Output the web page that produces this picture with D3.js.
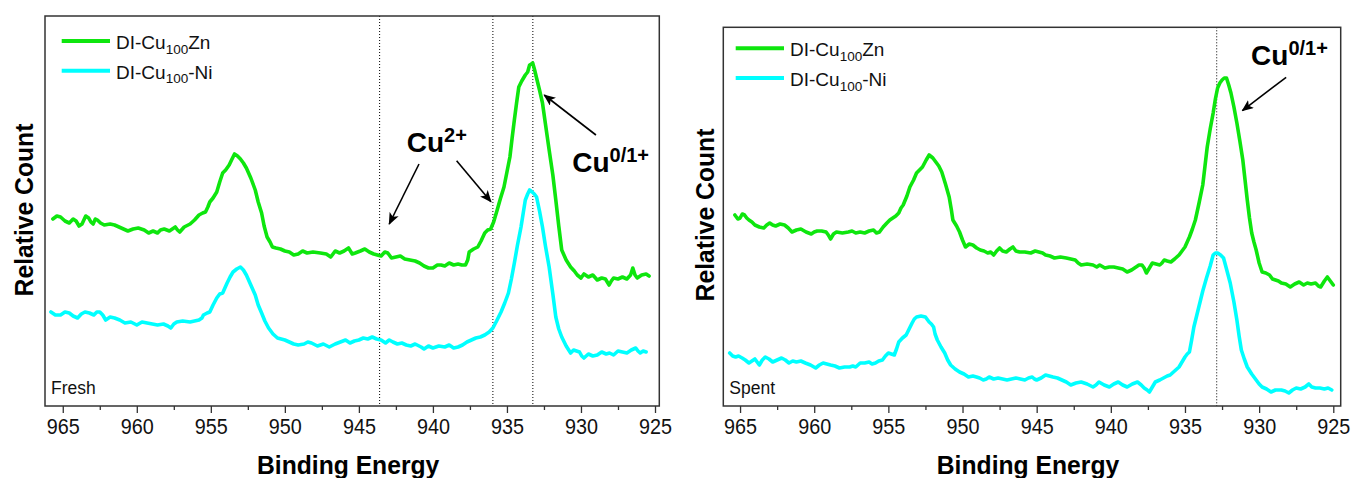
<!DOCTYPE html>
<html><head><meta charset="utf-8">
<script src="https://cdn.jsdelivr.net/npm/d3@7"></script>
<style>
html,body{margin:0;padding:0;background:#fff;}
svg text{font-family:"Liberation Sans",Arial,sans-serif;}
</style></head>
<body><svg id="c" width="1352" height="478"></svg>
<script>
// ---------- data ----------
const majorTicks = [965, 960, 955, 950, 945, 940, 935, 930, 925];
const minorTicks = [962.5, 957.5, 952.5, 947.5, 942.5, 937.5, 932.5, 927.5];
const seriesNames = ["DI-Cu100Zn", "DI-Cu100-Ni"];
const panelLabels = ["Fresh", "Spent"];
const freshRefLines = [943.6, 935.95, 933.25];
const spentRefLines = [932.86];

// Fresh, DI-Cu100Zn  [binding energy, relative count]
const freshZn = [[965.67,187],[965.4,190],[965.15,189],[964.85,185],[964.56,183],[964.3,187],[964.1,185],[963.9,180],[963.7,182],[963.45,190],[963.25,188],[963.1,184],[962.95,182],[962.8,187],[962.66,186],[962.45,183],[962.2,181],[961.8,182],[961.5,181],[961.05,178],[960.6,175],[960.25,177],[959.9,178],[959.5,176],[959.2,173],[958.9,175],[958.6,173],[958.4,176],[958.15,177],[957.8,175],[957.4,179],[957.25,176],[957.1,174],[956.8,179],[956.4,182],[956.1,186],[955.8,191],[955.55,193],[955.36,194],[955.2,199],[955.07,204],[954.85,208],[954.6,214],[954.4,224],[954.2,233],[954.0,236],[953.76,241],[953.6,246],[953.4,252],[953.2,250],[953.0,247],[952.8,243],[952.6,238],[952.3,228],[952.0,216],[951.8,204],[951.57,193],[951.4,180],[951.2,169],[951.0,164],[950.84,159],[950.6,158],[950.3,157],[950.0,155],[949.7,154],[949.4,151],[949.1,152],[948.8,155],[948.5,153],[948.1,154],[947.6,153],[947.2,152],[946.9,149],[946.6,155],[946.3,153],[946.0,155],[945.7,158],[945.45,152],[945.25,153],[944.9,155],[944.6,157],[944.3,154],[944.0,152],[943.75,151],[943.5,150],[943.25,154],[943.05,153],[942.8,148],[942.5,149],[942.2,150],[941.9,147],[941.55,146],[941.2,145],[940.9,143],[940.6,140],[940.3,138],[940.0,138],[939.7,141],[939.45,141],[939.2,140],[938.9,143],[938.6,141],[938.3,142],[938.05,141],[937.8,141],[937.65,146],[937.55,154],[937.25,157],[936.97,159],[936.75,165],[936.5,173],[936.3,176],[936.1,177],[935.9,184],[935.66,196],[935.45,207],[935.2,219],[935.0,234],[934.8,249],[934.65,268],[934.5,286],[934.35,303],[934.2,319],[934.0,325],[933.76,331],[933.6,334],[933.47,341],[933.35,342],[933.26,343],[933.13,336],[933.0,328],[932.8,316],[932.6,303],[932.4,282],[932.15,256],[931.9,231],[931.7,206],[931.5,180],[931.3,156],[931.0,146],[930.7,139],[930.45,135],[930.25,131],[930.0,128],[929.8,132],[929.5,129],[929.2,131],[928.9,126],[928.6,128],[928.35,127],[928.1,121],[927.95,125],[927.8,128],[927.5,127],[927.2,129],[926.9,127],[926.65,131],[926.5,138],[926.35,131],[926.2,128],[925.9,131],[925.6,132],[925.4,130]];

// Fresh, DI-Cu100-Ni
const freshNi = [[965.8,94],[965.5,91],[965.15,91],[964.85,94],[964.56,93],[964.3,90],[964.0,88],[963.75,92],[963.5,94],[963.2,93],[962.9,91],[962.7,94],[962.5,94],[962.3,91],[962.1,86],[961.8,89],[961.5,88],[961.15,86],[960.8,83],[960.4,84],[960.0,81],[959.65,84],[959.3,83],[958.95,82],[958.6,81],[958.2,82],[957.9,80],[957.7,78],[957.5,82],[957.3,84],[956.9,85],[956.4,84],[956.1,85],[955.8,86],[955.6,88],[955.5,91],[955.25,93],[955.07,94],[954.85,101],[954.6,108],[954.4,112],[954.2,113],[954.05,118],[953.9,123],[953.7,129],[953.5,134],[953.25,137],[953.0,139],[952.8,136],[952.6,131],[952.3,121],[952.0,111],[951.8,101],[951.57,93],[951.35,85],[951.1,78],[950.8,72],[950.5,68],[950.25,67],[950.0,66],[949.7,64],[949.4,62],[949.1,61],[948.7,62],[948.45,64],[948.2,63],[947.8,60],[947.4,62],[947.0,59],[946.6,62],[946.25,64],[945.9,66],[945.6,63],[945.3,65],[945.0,66],[944.7,68],[944.4,67],[944.1,69],[943.8,67],[943.5,66],[943.2,63],[942.95,66],[942.7,64],[942.4,62],[942.1,63],[941.8,61],[941.5,60],[941.2,62],[940.8,59],[940.6,57],[940.3,60],[940.0,58],[939.6,60],[939.2,59],[938.9,61],[938.6,58],[938.3,59],[938.0,61],[937.7,64],[937.4,66],[937.1,68],[936.8,69],[936.5,71],[936.2,74],[935.95,78],[935.7,85],[935.4,94],[935.15,103],[934.9,113],[934.7,127],[934.5,143],[934.3,160],[934.05,179],[933.9,193],[933.76,206],[933.6,212],[933.47,216],[933.3,214],[933.15,212],[933.0,209],[932.8,195],[932.6,179],[932.4,160],[932.15,139],[931.9,112],[931.7,89],[931.5,77],[931.3,69],[931.0,60],[930.7,53],[930.5,56],[930.3,55],[930.1,54],[929.95,50],[929.8,48],[929.5,52],[929.2,50],[928.9,51],[928.6,54],[928.3,52],[928.07,53],[927.8,51],[927.5,55],[927.2,54],[926.9,53],[926.6,56],[926.3,58],[926.15,55],[926.0,53],[925.8,55],[925.6,54]];

// Spent, DI-Cu100Zn
const spentZn = [[965.35,191],[965.15,187],[965.0,188],[964.85,192],[964.7,191],[964.55,188],[964.4,186],[964.2,184],[964.0,181],[963.7,179],[963.4,178],[963.2,181],[963.0,183],[962.8,181],[962.6,180],[962.3,182],[962.0,181],[961.75,178],[961.5,174],[961.2,176],[960.9,177],[960.55,174],[960.2,172],[960.0,174],[959.8,175],[959.5,175],[959.2,174],[959.05,171],[958.9,167],[958.7,172],[958.5,174],[958.1,173],[957.7,174],[957.45,175],[957.2,173],[956.9,174],[956.6,173],[956.3,175],[956.0,176],[955.8,173],[955.6,174],[955.35,179],[955.1,183],[954.9,186],[954.7,188],[954.5,190],[954.3,193],[954.15,198],[954.0,201],[953.75,210],[953.55,219],[953.3,226],[953.1,233],[952.9,236],[952.7,239],[952.45,246],[952.25,251],[952.0,248],[951.8,244],[951.6,240],[951.4,234],[951.15,222],[950.9,209],[950.75,196],[950.65,186],[950.4,180],[950.2,174],[950.0,166],[949.8,159],[949.55,162],[949.3,161],[949.05,158],[948.8,156],[948.55,155],[948.3,153],[948.1,154],[947.9,151],[947.7,155],[947.5,158],[947.3,155],[947.05,154],[946.8,157],[946.6,159],[946.4,155],[946.15,154],[945.8,154],[945.4,153],[945.1,155],[944.85,154],[944.6,153],[944.4,151],[944.1,150],[943.8,148],[943.4,149],[943.0,148],[942.7,147],[942.4,146],[942.2,143],[942.0,141],[941.6,142],[941.2,141],[940.95,139],[940.75,141],[940.4,138],[940.1,139],[939.8,139],[939.5,138],[939.2,137],[938.9,134],[938.6,136],[938.3,139],[938.1,141],[937.9,141],[937.75,138],[937.6,133],[937.4,138],[937.2,143],[936.95,142],[936.7,141],[936.55,143],[936.4,146],[936.2,145],[935.95,144],[935.7,147],[935.4,151],[935.2,155],[935.0,159],[934.85,164],[934.7,169],[934.5,177],[934.3,186],[934.05,203],[933.8,221],[933.65,240],[933.5,259],[933.3,277],[933.1,293],[932.95,307],[932.8,318],[932.65,323],[932.5,326],[932.35,328],[932.2,328],[932.05,321],[931.9,313],[931.7,299],[931.5,283],[931.3,265],[931.1,246],[930.95,226],[930.8,206],[930.65,188],[930.5,173],[930.35,164],[930.2,156],[930.0,143],[929.8,134],[929.55,133],[929.3,131],[929.1,127],[928.9,126],[928.7,125],[928.5,123],[928.2,122],[927.9,119],[927.6,122],[927.3,124],[927.0,121],[926.75,123],[926.5,122],[926.2,123],[926.0,120],[925.85,119],[925.6,125],[925.4,129],[925.2,125],[925.0,121]];

// Spent, DI-Cu100-Ni
const spentNi = [[965.7,53],[965.5,50],[965.3,49],[965.1,50],[964.86,48],[964.65,46],[964.4,43],[964.2,45],[964.0,47],[963.85,44],[963.7,41],[963.5,46],[963.3,49],[963.05,47],[962.8,44],[962.5,46],[962.2,48],[961.95,46],[961.7,43],[961.45,45],[961.2,44],[960.9,45],[960.6,43],[960.25,41],[959.9,38],[959.65,41],[959.4,43],[959.15,42],[958.9,41],[958.6,40],[958.3,38],[957.95,39],[957.6,39],[957.4,40],[957.2,39],[957.05,41],[956.9,43],[956.6,43],[956.3,44],[956.1,42],[955.87,43],[955.65,45],[955.4,46],[955.2,50],[955.0,53],[954.8,52],[954.6,51],[954.45,57],[954.3,64],[954.05,68],[953.8,71],[953.6,77],[953.4,83],[953.25,87],[953.1,89],[952.8,90],[952.5,89],[952.35,86],[952.25,84],[952.1,82],[951.95,79],[951.85,72],[951.7,66],[951.45,59],[951.2,53],[951.0,46],[950.8,41],[950.5,37],[950.2,34],[949.9,32],[949.6,29],[949.3,30],[949.06,29],[948.85,28],[948.6,26],[948.4,27],[948.2,29],[947.9,27],[947.6,28],[947.3,27],[947.0,26],[946.7,27],[946.4,28],[946.1,27],[945.8,26],[945.55,28],[945.3,29],[945.15,27],[945.0,26],[944.7,28],[944.4,31],[944.15,30],[943.9,29],[943.6,28],[943.3,26],[943.0,24],[942.7,21],[942.35,23],[942.0,24],[941.6,22],[941.2,19],[941.0,21],[940.8,24],[940.45,21],[940.1,19],[939.8,22],[939.5,24],[939.2,21],[938.9,19],[938.55,22],[938.2,24],[937.95,21],[937.75,18],[937.55,16],[937.4,14],[937.2,19],[937.0,24],[936.7,26],[936.45,28],[936.2,30],[936.0,31],[935.7,35],[935.4,39],[935.2,44],[935.0,49],[934.85,52],[934.7,54],[934.55,66],[934.4,79],[934.2,91],[934.0,103],[933.8,115],[933.55,128],[933.3,140],[933.1,151],[932.95,153],[932.8,153],[932.6,151],[932.4,148],[932.2,137],[931.95,123],[931.7,104],[931.5,86],[931.35,70],[931.2,56],[931.0,47],[930.8,39],[930.5,32],[930.2,26],[930.0,22],[929.8,19],[929.5,17],[929.2,14],[928.9,16],[928.5,16],[928.25,15],[928.0,13],[927.75,16],[927.5,18],[927.2,17],[926.9,19],[926.65,22],[926.45,19],[926.2,18],[925.9,18],[925.6,17],[925.35,18],[925.1,16]];

// annotations (energy, count)
const freshAnnot = {
  cu2Text: [941.77, 254.3],
  cu2Arrows: [[[940.94,242],[942.95,182]], [[938.40,245.3],[936.08,204.3]]],
  cu01Text: [930.59, 234.3],
  cu01Arrow: [[928.99,271],[932.48,311]]
};
const spentAnnot = {
  cu01Text: [930.54, 341],
  cu01Arrow: [[928.18,328.7],[931.13,295.3]]
};

// ---------- drawing ----------
const svg = d3.select("#c");
const colors = ["#0ee60e", "#00ffff"];
const defs = svg.append("defs");
defs.append("marker").attr("id","ah").attr("viewBox","0 0 12 10").attr("refX",11).attr("refY",5)
  .attr("markerWidth",12).attr("markerHeight",10).attr("markerUnits","userSpaceOnUse").attr("orient","auto")
  .append("path").attr("d","M0,0 L12,5 L0,10 L3,5 Z").attr("fill","#000");

const panels = [
  {x0:45, x1:659.3, y0:16, y1:406, xd:[966.2,924.71], yd:[0,390], series:[freshZn,freshNi],
   refs:freshRefLines, label:panelLabels[0], legX:61.7, legY:41, annot:freshAnnot, yTitleX:33, yTitleY:210},
  {x0:723.3, x1:1340.7, y0:27.3, y1:406, xd:[966.13,924.5], yd:[0,378.7], series:[spentZn,spentNi],
   refs:spentRefLines, label:panelLabels[1], legX:735.7, legY:48.3, annot:spentAnnot, yTitleX:714, yTitleY:215}
];

panels.forEach(p => {
  const g = svg.append("g");
  const x = d3.scaleLinear().domain(p.xd).range([p.x0, p.x1]);
  const y = d3.scaleLinear().domain(p.yd).range([p.y1, p.y0]);

  // reference dotted lines
  g.selectAll("line.ref").data(p.refs).join("line")
    .attr("x1", d=>x(d)).attr("x2", d=>x(d)).attr("y1", p.y0).attr("y2", p.y1)
    .attr("stroke","#000").attr("stroke-width",1).attr("stroke-dasharray","1,2");

  // series
  const line = d3.line().x(d=>x(d[0])).y(d=>y(d[1]));
  p.series.forEach((s,i) => {
    g.append("path").datum(s).attr("d", line).attr("fill","none")
      .attr("stroke", colors[i]).attr("stroke-width",3.6)
      .attr("stroke-linejoin","round").attr("stroke-linecap","round");
  });

  // frame
  g.append("rect").attr("x",p.x0).attr("y",p.y0).attr("width",p.x1-p.x0).attr("height",p.y1-p.y0)
    .attr("fill","none").attr("stroke","#333").attr("stroke-width",1.5);

  // axis
  const ax = g.append("g").attr("transform",`translate(0,${p.y1})`)
    .call(d3.axisBottom(x).tickValues(majorTicks).tickSize(7).tickPadding(5).tickFormat(d3.format("d")));
  ax.select(".domain").remove();
  ax.selectAll(".tick line").attr("stroke","#333").attr("stroke-width",1.3);
  ax.selectAll(".tick text").attr("font-size",22).attr("fill","#111")
    .attr("font-family","'Liberation Sans',Arial,sans-serif").attr("dy","0.75em")
    .attr("transform","scale(0.9,1)");
  const axm = g.append("g").attr("transform",`translate(0,${p.y1})`)
    .call(d3.axisBottom(x).tickValues(minorTicks).tickSize(4).tickFormat(""));
  axm.select(".domain").remove();
  axm.selectAll(".tick line").attr("stroke","#333").attr("stroke-width",1.3);

  // axis titles
  const cx = (p.x0+p.x1)/2 - 4;
  g.append("text").attr("transform",`translate(${cx},474) scale(0.95,1)`).attr("text-anchor","middle")
    .attr("font-size",26).attr("font-weight","bold").text("Binding Energy");
  g.append("text").attr("transform",`translate(${p.yTitleX},${p.yTitleY}) rotate(-90) scale(0.95,1)`)
    .attr("text-anchor","middle").attr("font-size",26).attr("font-weight","bold").text("Relative Count");

  // panel label
  g.append("text").attr("x",p.x0+6).attr("y",394).attr("font-size",17.5).attr("fill","#111").text(p.label);

  // legend
  seriesNames.forEach((name,i) => {
    const ly = p.legY + i*29.7;
    g.append("line").attr("x1",p.legX).attr("x2",p.legX+48.3).attr("y1",ly).attr("y2",ly)
      .attr("stroke",colors[i]).attr("stroke-width",4);
    const t = g.append("text").attr("x",p.legX+54.3).attr("y",ly+8).attr("font-size",19).attr("fill","#111");
    const m = name.match(/^(DI-Cu)(100)(.*)$/);
    t.append("tspan").text(m[1]);
    t.append("tspan").attr("font-size",13.5).attr("dy",4.5).text(m[2]);
    t.append("tspan").attr("dy",-4.5).text(m[3]);
  });

  // annotations
  const a = p.annot;
  const sup = (pos, base, supTxt) => {
    const t = g.append("text").attr("x",x(pos[0])).attr("y",y(pos[1])).attr("font-weight","bold").attr("fill","#000");
    t.append("tspan").attr("font-size",28).text(base);
    t.append("tspan").attr("font-size",20).attr("dy",-10).text(supTxt);
  };
  const arrow = (seg) => g.append("line")
    .attr("x1",x(seg[0][0])).attr("y1",y(seg[0][1])).attr("x2",x(seg[1][0])).attr("y2",y(seg[1][1]))
    .attr("stroke","#000").attr("stroke-width",1.6).attr("marker-end","url(#ah)");
  if (a.cu2Text) { sup(a.cu2Text, "Cu", "2+"); a.cu2Arrows.forEach(arrow); }
  sup(a.cu01Text, "Cu", "0/1+");
  arrow(a.cu01Arrow);
});
</script></body></html>
